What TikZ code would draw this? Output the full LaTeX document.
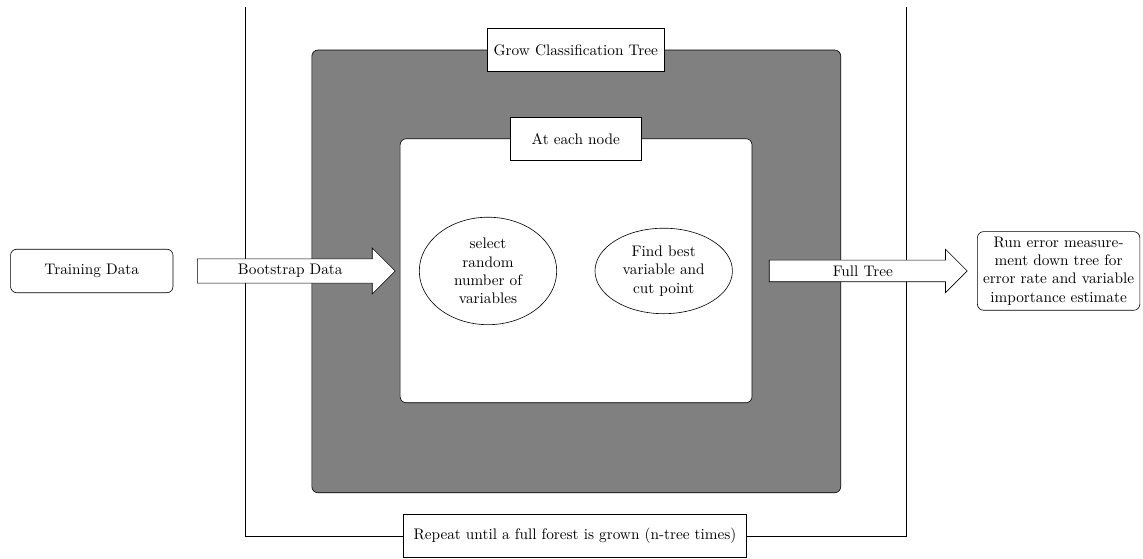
\documentclass[tikz,border=0pt]{standalone}
\usepackage{tikz}
\usetikzlibrary{shapes.geometric,shapes.arrows}

\begin{document}
\begin{tikzpicture}[
    box/.style={draw, rounded corners, text width=3.5cm, align=center, minimum height=1cm},
    tag/.style={draw, fill=white, minimum width=3cm, minimum height=1cm, inner xsep=4pt},
    oval/.style={draw, ellipse, text width=2cm, align=center},
    bigarrow/.style={draw, fill=white, single arrow, minimum height=4.55cm}]
    \useasboundingbox (0,0) rectangle (26.28,12.85);

    % outer loop (one pass per tree)
    \node[tag, minimum width=7.9cm] (repeat) at (13.22,0.53) {Repeat until a full forest is grown (n-tree times)};
    \coordinate (loopL) at (5.63,12.69);
    \coordinate (loopR) at (20.83,12.69);
    \draw (loopL) |- (repeat.west);
    \draw (loopR) |- (repeat.east);

    % grow classification tree, with the node split inside
    \draw[fill=gray, rounded corners] (7.17,1.52) rectangle (19.33,11.70);
    \draw[fill=white, rounded corners] (9.20,3.59) rectangle (17.29,9.66);
    \node[tag] (grow) at (13.24,11.70) {Grow Classification Tree};
    \node[tag] (each) at (13.24,9.66) {At each node};

    % steps at each node
    \node[oval] (select) at (11.22,6.62) {select random number of variables};
    \node[oval] (find) at (15.26,6.62) {Find best variable and cut point};

    % data in and result out
    \node[box] (train) at (2.11,6.62) {Training Data};
    \node[box] (result) at (24.34,6.62) {Run error measurement down tree for error rate and variable importance estimate};
    \node[bigarrow, anchor=tail] (boot) at (4.53,6.62) {Bootstrap Data};
    \node[bigarrow, anchor=tail] (full) at (17.68,6.62) {Full Tree};
\end{tikzpicture}
\end{document}
